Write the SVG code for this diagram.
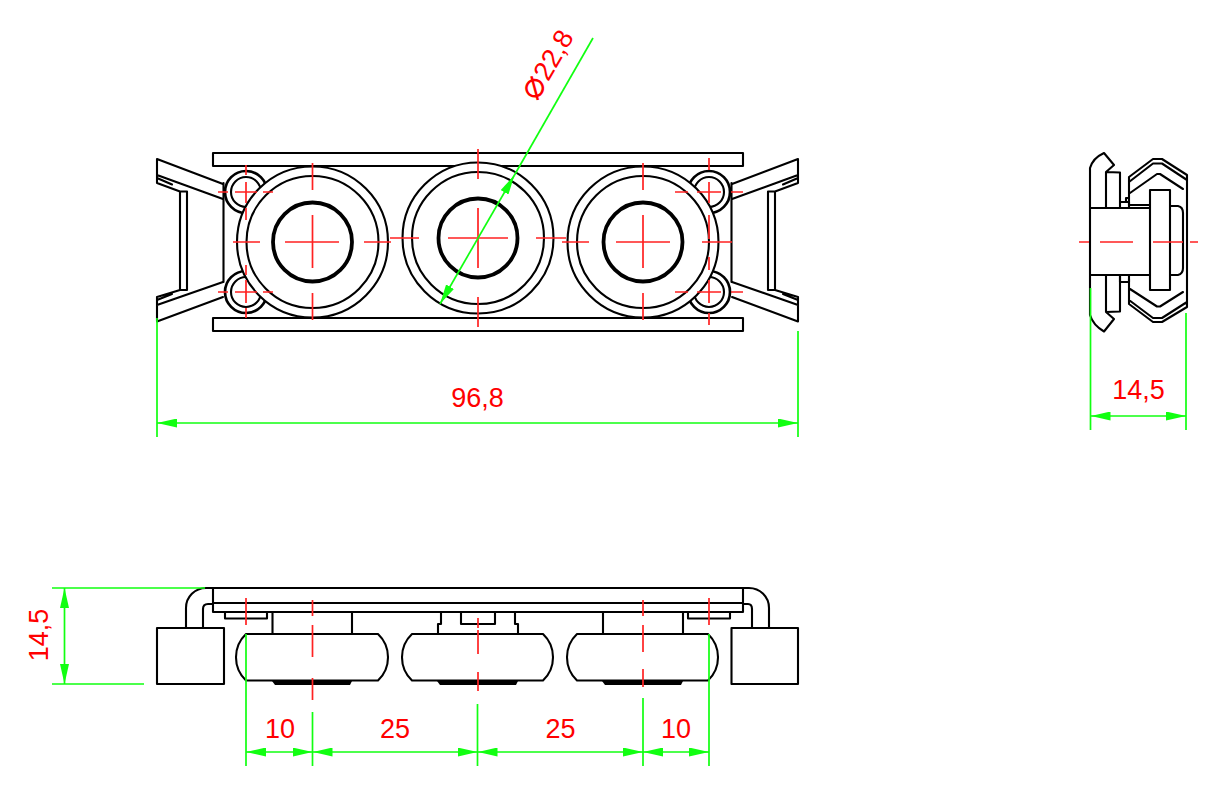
<svg xmlns="http://www.w3.org/2000/svg" xmlns:xlink="http://www.w3.org/1999/xlink" width="1224" height="800" viewBox="0 0 1224 800">
<style>
.k{fill:none;stroke:#000;stroke-width:2.1;stroke-linejoin:round;stroke-linecap:round}
.w{fill:#fff;stroke:#000;stroke-width:2.1}
.s{fill:#fff;stroke:#000;stroke-width:2.7}
.b{fill:#fff;stroke:#000;stroke-width:3.8}
.r{fill:none;stroke:#f22;stroke-width:1.7}
.g{fill:none;stroke:#1f1;stroke-width:1.7}
.gf{fill:#1f1;stroke:none}
text{font-family:"Liberation Sans",Arial,sans-serif;font-size:27px;fill:#f00}
.m{text-anchor:middle}
</style>
<defs>
<marker id="a" viewBox="0 0 20 9" refX="20" refY="4.500" markerWidth="20" markerHeight="9" markerUnits="userSpaceOnUse" orient="auto-start-reverse"><path d="M0,0L20,4.500L0,9Z" class="gf"/></marker>
<g id="rollerTop"><circle r="75.5" class="w"/><circle r="66" class="w"/><circle r="39.5" class="b"/></g>
<path id="clip" class="k" d="M157,159L223,184M157,175L223,199M157,159V183L180,191.500H187V290H180L157,297V321.500L223,297M157,305L223,282M157,178L172,184.500M180,191.500V290M157,300L172,294"/>
</defs>
<rect width="1224" height="800" fill="#fff"/>
<g id="front-view">
<g id="front-frame"><path class="k" d="M213,166V153H743V166ZM213,318V331H743V318ZM223.500,183V282M731.500,183V282"/></g>
<g id="front-clip-left"><use xlink:href="#clip"/></g>
<g id="front-clip-right"><use xlink:href="#clip" transform="matrix(-1 0 0 1 955 0)"/></g>
<g id="front-screws">
<circle cx="246" cy="192" r="21" class="s"/><circle cx="246" cy="192" r="15" class="k"/>
<circle cx="246" cy="292" r="21" class="s"/><circle cx="246" cy="292" r="15" class="k"/>
<circle cx="709" cy="192" r="21" class="s"/><circle cx="709" cy="192" r="15" class="k"/>
<circle cx="709" cy="292" r="21" class="s"/><circle cx="709" cy="292" r="15" class="k"/>
</g>
<g id="front-roller-1"><use xlink:href="#rollerTop" x="312.500" y="242"/></g>
<g id="front-roller-2"><use xlink:href="#rollerTop" x="478" y="238"/></g>
<g id="front-roller-3"><use xlink:href="#rollerTop" x="643" y="242"/></g>
</g>
<g id="side-view">
<g id="side-hook"><path class="k" d="M1090,208V168Q1093,158 1104,153L1114,165L1106,172V208M1106,172L1120,172.500V208M1090,208V275M1090,275V315Q1093,325 1104,331.500L1114,319L1106,312V275M1106,312L1120,311.500V275"/></g>
<g id="side-shaft"><path class="k" d="M1090,208H1150M1090,275H1150M1120,202H1129V208M1126,202V198H1129M1120,275V282H1129V275M1170,206H1178Q1183,207 1183,213V268Q1183,274 1178,275H1170M1129,205H1150"/><rect x="1150" y="190" width="20" height="100" class="k"/></g>
<g id="side-housing"><path class="k" d="M1129,205V177L1153,159H1162L1187,175V307L1162,322H1153L1129,304V279M1129,182L1153,163.500H1162L1187,180M1129,300L1153,318H1162L1187,302M1130,193L1157,174H1160L1183,189M1130,289L1157,306.500H1160L1183,292"/></g>
</g>
<g id="bottom-view">
<g id="bottom-plate"><path class="k" d="M213,588H743V612H213ZM213,603H743"/></g>
<g id="bottom-clip-left"><path class="k" d="M213,588H206A20,20 0 0 0 186,608V628M213,604H208Q203,604 203,609V628"/><rect x="157" y="628" width="67" height="56" class="k"/><path class="k" d="M225,612V618.500H267V612"/></g>
<g id="bottom-clip-right"><path class="k" d="M743,588H749A20,20 0 0 1 769,608V628M743,604H748Q752,604 752,609V628"/><rect x="731.500" y="628" width="66.500" height="56" class="k"/><path class="k" d="M688,612V618.500H730V612"/></g>
<g id="bottom-roller-1"><path class="k" d="M272.500,612V634M352,612V634M246,634H378A32,32 0 0 1 378,680.500H246A32,32 0 0 1 246,634Z"/><path d="M272,681L275,685H350L352,681Z"/></g>
<g id="bottom-roller-2"><path class="k" d="M441,612V624H438V634M515,612V624H518V634M461,612V624H495V612M412,634H543A32,32 0 0 1 543,680.500H412A32,32 0 0 1 412,634Z"/><path d="M437,681L440,685H516L518,681Z"/></g>
<g id="bottom-roller-3"><path class="k" d="M603,612V634M683,612V634M577,634H708A32,32 0 0 1 708,680.500H577A32,32 0 0 1 577,634Z"/><path d="M602,681L605,685H681L683,681Z"/></g>
</g>
<g id="centerlines">
<path class="r" d="M312.500,163V190M312.500,215V268M312.500,293V320M233,242H260M285,242H339M364,242H391"/>
<path class="r" d="M478,149V179M478,208V268M478,297V327M390,238H419M448,238H508M536,238H566"/>
<path class="r" d="M643,163V190M643,215V268M643,293V320M562,242H589M616,242H670M702,242H732"/>
<path class="r" d="M218,192H228M235,192H257M263,192H273M246,165V175M246,182V203M246,208V220M218,292H228M235,292H257M263,292H273M246,265V275M246,280V303M246,308V318"/>
<path class="r" d="M675,192H688M697,192H721M731,192H743M709,158V170M709,182V203M709,215V239M675,292H688M697,292H721M731,292H743M709,257V270M709,280V303M709,313V325"/>
<path class="r" d="M1079,242H1089M1100,242H1133M1153,242H1183M1190,242H1198"/>
<path class="r" d="M246,598V625M312.500,600V616M312.500,625V657M312.500,678V700M478,618V628M478,630V654M478,672V691M643,600V616M643,625V652M643,669V687M709,598V625"/>
</g>
<g id="connectors">
<path class="g" d="M157,318V437M798,331V437"/>
<path class="g" d="M157,423H798" marker-start="url(#a)" marker-end="url(#a)"/>
<path class="g" d="M1090.500,288V430M1186,313V430"/>
<path class="g" d="M1090.500,416H1186" marker-start="url(#a)" marker-end="url(#a)"/>
<path class="g" d="M52,588H205M52,684H144"/>
<path class="g" d="M64.500,588V684" marker-start="url(#a)" marker-end="url(#a)"/>
<path class="g" d="M246,634V766M312.500,712V766M477.500,704V766M643,698V766M709,634V766"/>
<path class="g" d="M246,752H312.500" marker-start="url(#a)" marker-end="url(#a)"/>
<path class="g" d="M312.500,752H477.500" marker-start="url(#a)" marker-end="url(#a)"/>
<path class="g" d="M477.500,752H643" marker-start="url(#a)" marker-end="url(#a)"/>
<path class="g" d="M643,752H709" marker-start="url(#a)" marker-end="url(#a)"/>
<path class="g" d="M593,38L514.500,175"/>
<path class="g" d="M514.500,175L440,304" marker-start="url(#a)" marker-end="url(#a)"/>
</g>
<g id="labels">
<text class="m" x="477.500" y="407">96,8</text>
<text class="m" x="1138.500" y="399">14,5</text>
<text class="m" transform="translate(48,635) rotate(-90)">14,5</text>
<text class="m" x="280" y="738">10</text>
<text class="m" x="395" y="738">25</text>
<text class="m" x="560.500" y="738">25</text>
<text class="m" x="676" y="738">10</text>
<text transform="translate(537,102) rotate(-60)"><tspan style="font-family:'DejaVu Sans',sans-serif;font-size:36px">⌀</tspan><tspan dx="1">22,8</tspan></text>
</g>
</svg>
